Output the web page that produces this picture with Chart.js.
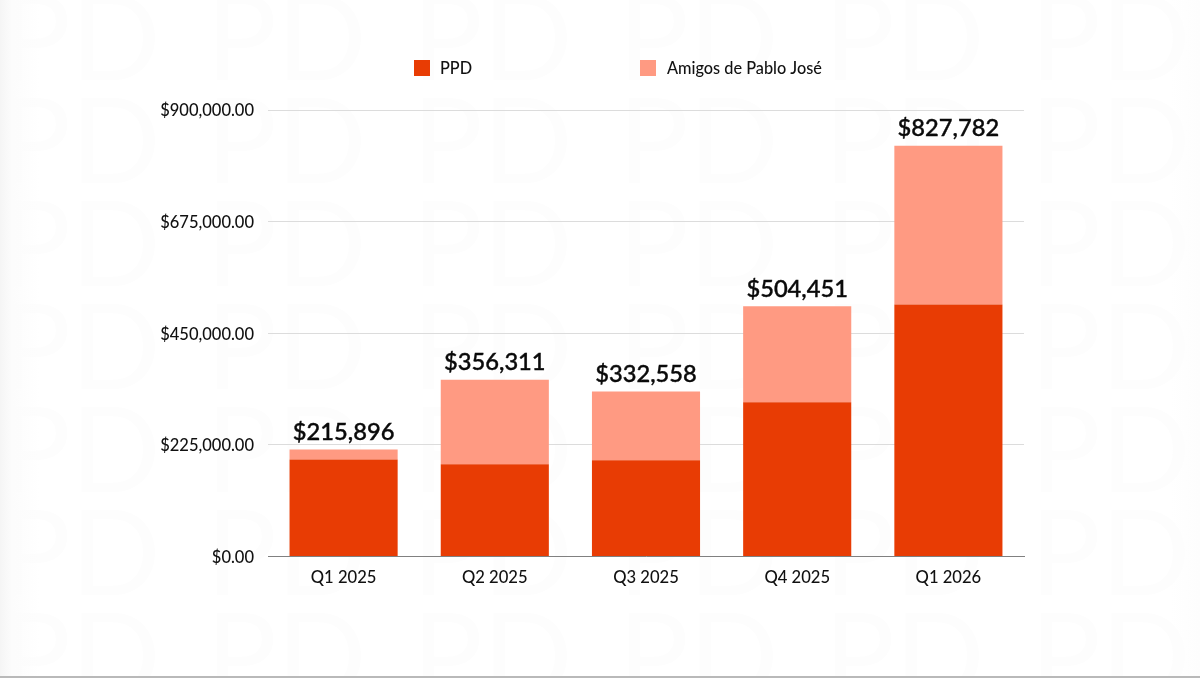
<!DOCTYPE html>
<html><head><meta charset="utf-8">
<script src="https://cdn.jsdelivr.net/npm/chart.js@4"></script>
<style>
html,body{margin:0;padding:0;width:1200px;height:678px;overflow:hidden;background:#fff}
#wrap{position:relative;width:1200px;height:678px;
 background:linear-gradient(90deg,#f5f5f5 0,#fcfcfc 12px,rgba(255,255,255,0) 40px,rgba(255,255,255,0) 1170px,#fdfdfd 1200px),
 url("data:image/svg+xml,%3Csvg xmlns='http://www.w3.org/2000/svg' width='206' height='103'%3E%3Ctext x='0' y='88' font-family='Lato' font-size='118' fill='%23fdfdfd'%3EPD%3C/text%3E%3C/svg%3E") 0 -8px repeat,#fff}
#wrap:after{content:"";position:absolute;left:0;right:0;bottom:0;height:2px;background:#b9b9b9}
canvas{position:absolute;left:0;top:0}
</style></head><body><div id="wrap"><canvas id="c" width="1200" height="678"></canvas></div>
<script>
const categories=["Q1 2025","Q2 2025","Q3 2025","Q4 2025","Q1 2026"];
const ppd=[195300,186000,194000,311000,508000];
const amigos=[20596,170311,138558,193451,319782];
const totalLabels=["$215,896","$356,311","$332,558","$504,451","$827,782"];
const yTicks=[0,225000,450000,675000,900000];
const legendX=[414,640];
const FONT='Lato, "Open Sans", sans-serif';
const overlay={id:'overlay',
 beforeDraw(chart){
  const s=chart.scales.y;
  if(!s._shifted){s._shifted=true;const orig=s.drawLabels;
    s.drawLabels=function(a){const c=this.ctx;c.save();c.translate(0,1);orig.call(this,a);c.restore();};}
 },
 afterDatasetsDraw(chart){
  const c=chart.ctx,x=chart.scales.x,y=chart.scales.y;
  c.save();
  c.fillStyle='#0a0a0a';c.strokeStyle='#0a0a0a';c.lineWidth=0.4;c.textAlign='center';c.textBaseline='alphabetic';c.font='500 23.7px '+FONT;
  totalLabels.forEach((t,i)=>{const px=x.getPixelForValue(i),py=y.getPixelForValue(ppd[i]+amigos[i])-9.5;c.fillText(t,px,py);c.strokeText(t,px,py);});
  c.font='500 16.3px '+FONT;c.textAlign='left';c.textBaseline='middle';
  chart.data.datasets.forEach((d,i)=>{
    c.fillStyle=d.backgroundColor;c.fillRect(legendX[i],60,16,16);
    c.fillStyle='#111';c.fillText(d.label,legendX[i]+(i?27:26),68.5);
  });
  c.restore();
 }};
new Chart(document.getElementById('c'),{type:'bar',
 data:{labels:categories,datasets:[
  {label:'PPD',data:ppd,backgroundColor:'#E83C04',stack:'s'},
  {label:'Amigos de Pablo José',data:amigos,backgroundColor:'#FF9A82',stack:'s'}]},
 options:{responsive:false,animation:false,
  layout:{padding:{left:0,right:176,top:110,bottom:0}},
  plugins:{legend:{display:false},tooltip:{enabled:false},title:{display:false}},
  datasets:{bar:{categoryPercentage:1,barPercentage:0.715}},
  scales:{
   x:{stacked:true,afterFit(s){s.height=121.5;},
      grid:{display:false,drawTicks:false},border:{color:'#808080',width:1},
      ticks:{padding:11,color:'#111',font:{family:FONT,size:16.6,weight:'500'},maxRotation:0}},
   y:{stacked:true,min:0,max:900000,afterFit(s){s.width=268;},
      afterBuildTicks(s){s.ticks=yTicks.map(v=>({value:v}));},
      grid:{color:'#dcdcdc',lineWidth:1,drawTicks:false},border:{display:false},
      ticks:{padding:14,color:'#111',font:{family:FONT,size:16.5,weight:'500'},
        callback:v=>'$'+v.toLocaleString('en-US',{minimumFractionDigits:2,maximumFractionDigits:2})}}
  }},
 plugins:[overlay]});
</script></body></html>
